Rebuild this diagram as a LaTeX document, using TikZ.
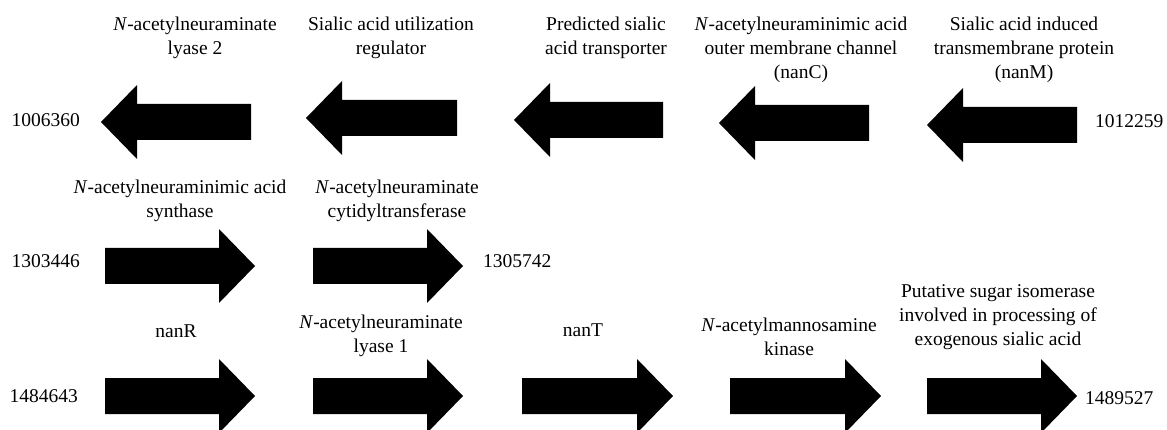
\documentclass[tikz,border=0pt]{standalone}
\usepackage{fontspec}
\setmainfont{Liberation Serif}

\begin{document}
\begin{tikzpicture}[x=1pt,y=-1pt,font=\fontsize{19.5}{24}\selectfont,
    gene/.style={fill=black},
    lbl/.style={align=center,anchor=north,inner sep=0pt},
    coordlbl/.style={inner sep=0pt}]
  \useasboundingbox (0,0) rectangle (1167,430);
  % row 1: genes read leftwards
  \foreach \xa/\xb/\yy in {101/251/122, 306/457/118, 514/663/120, 719/869/123, 927/1077/125}{
    \fill[gene] (\xa,\yy) -- (\xa+36,\yy-37) -- (\xa+36,\yy-18) -- (\xb,\yy-18)
      -- (\xb,\yy+18) -- (\xa+36,\yy+18) -- (\xa+36,\yy+37) -- cycle;
  }
  % rows 2 and 3: genes read rightwards
  \foreach \xa/\xb/\yy in {105/255/266, 313/463/266,
      105/255/396, 313/463/396, 522/673/396, 730/881/396, 927/1077/396}{
    \fill[gene] (\xb,\yy) -- (\xb-36,\yy-37) -- (\xb-36,\yy-18) -- (\xa,\yy-18)
      -- (\xa,\yy+18) -- (\xb-36,\yy+18) -- (\xb-36,\yy+37) -- cycle;
  }
  \node[lbl] (lyaseB) at (195,16.5) {\textit{N}-acetylneuraminate\\lyase 2};
  \node[lbl] (regul) at (391,16.5) {Sialic acid utilization\\regulator};
  \node[lbl] (transp) at (606,16.5) {Predicted sialic\\acid transporter};
  \node[lbl] (nanC) at (801,16.5) {\textit{N}-acetylneuraminimic acid\\outer membrane channel\\(nanC)};
  \node[lbl] (nanM) at (1024,16.5) {Sialic acid induced\\transmembrane protein\\(nanM)};
  \node[lbl] (synth) at (180,179.5) {\textit{N}-acetylneuraminimic acid\\synthase};
  \node[lbl] (cytid) at (397,179.5) {\textit{N}-acetylneuraminate\\cytidyltransferase};
  \node[lbl] (nanR) at (176,325) {nanR};
  \node[lbl] (lyaseA) at (381,315) {\textit{N}-acetylneuraminate\\lyase 1};
  \node[lbl] (nanT) at (583,324) {nanT};
  \node[lbl] (kinase) at (789,318) {\textit{N}-acetylmannosamine\\kinase};
  \node[lbl] (isom) at (998,284) {Putative sugar isomerase\\involved in processing of\\exogenous sialic acid};
  % genome coordinates
  \node[coordlbl,anchor=base east] (c1) at (80,127) {1006360};
  \node[coordlbl,anchor=base west] (c2) at (1095,128) {1012259};
  \node[coordlbl,anchor=base east] (c3) at (80,268) {1303446};
  \node[coordlbl,anchor=base west] (c4) at (483,268) {1305742};
  \node[coordlbl,anchor=base east] (c5) at (78,402) {1484643};
  \node[coordlbl,anchor=base west] (c6) at (1085,404) {1489527};
\end{tikzpicture}
\end{document}
